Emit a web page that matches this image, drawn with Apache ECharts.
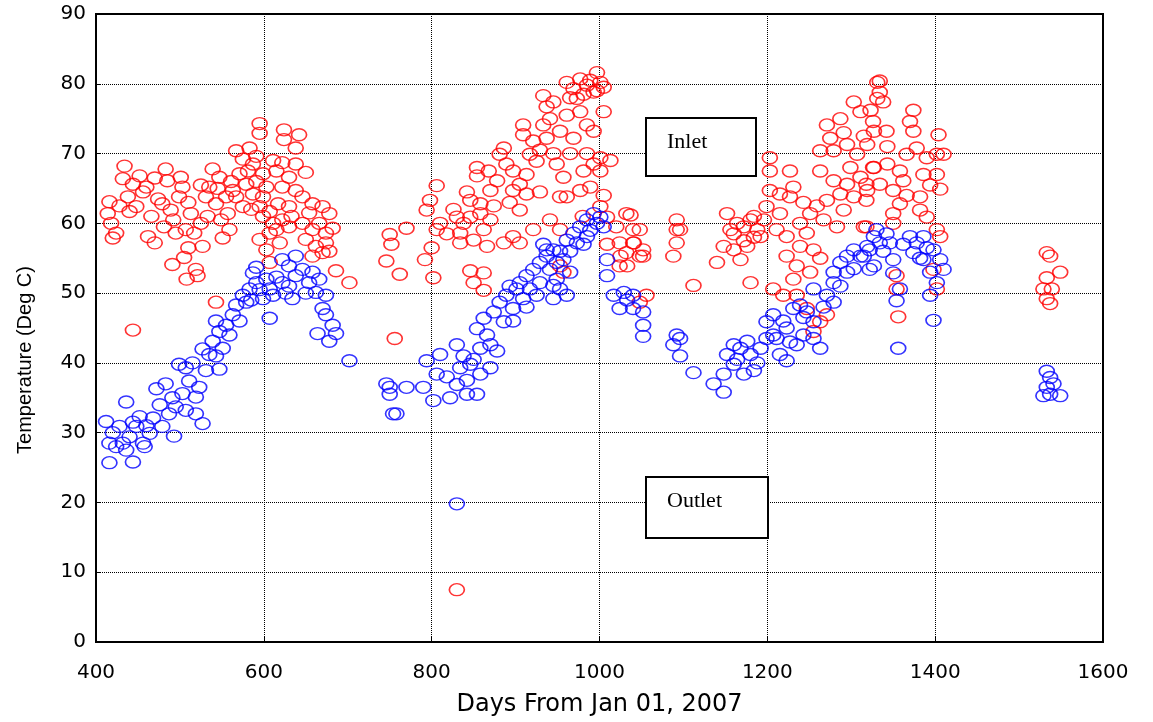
<!DOCTYPE html>
<html>
<head>
<meta charset="utf-8">
<script src="https://cdn.jsdelivr.net/npm/echarts@6/dist/echarts.min.js"></script>
<style>
html,body{margin:0;padding:0;background:#fff;}
#chart{width:1153px;height:722px;}
</style>
</head>
<body>
<div id="chart"></div>
<script>
// axis ticks
var xTicks=[400,600,800,1000,1200,1400,1600];
var yTicks=[0,10,20,30,40,50,60,70,80,90];

// inlet temperature [day, deg C]
var inlet=[
[434,68.2],[432,66.4],[416,63.1],[414,61.4],[418,60],[420,57.9],[424,58.6],[438,63.8],[444,65.6],[452,66.8],
[460,65.2],[448,62.4],[440,61.7],[462,58.1],[470,57.2],[483,67.8],[485,66.1],[501,66.6],[503,65.2],[499,63.8],
[479,62.8],[489,61.9],[481,59.5],[495,58.6],[507,59.1],[491,54.1],[505,55.1],[519,53.4],[521,52.5],[527,56.7],
[517,58.6],[513,61.4],[539,67.8],[547,66.6],[535,65.2],[531,63.8],[543,62.8],[555,63.8],[557,61.4],[559,59.1],
[551,57.9],[567,70.4],[575,69.2],[583,70.8],[591,69.6],[595,74.3],[595,72.9],[587,68.5],[571,67.1],[579,65.6],
[587,64.2],[567,63.8],[575,62.4],[563,64.7],[599,67.1],[603,65.2],[599,63.8],[595,62.4],[607,61.7],[599,61],
[595,57.7],[603,56.2],[607,54.4],[543,48.7],[444,44.7],[624,73.4],[624,72],[642,72.7],[638,70.8],[622,68.7],
[638,68.5],[615,67.5],[630,66.6],[650,67.3],[622,65.2],[638,64.7],[617,62.8],[630,62.4],[646,63.8],[658,62.8],
[670,62.4],[678,61.4],[622,60.5],[615,59.1],[630,59.5],[646,60],[658,59.1],[674,58.6],[682,59.3],[650,57.7],
[662,56.7],[674,57.2],[678,56],[658,55.3],[670,55.8],[686,53.2],[702,51.5],[607,58.6],[619,57.2],
[428,62.5],[456,64.5],[466,61],[474,63.5],[492,60.5],[510,63],[525,60],[533,61],[549,60.5],[561,66],
[581,67.5],[591,66],[611,60],[633,61],[654,61.5],[666,60],[611,69],[585,62],[510,56.5],[545,65],
[470,66.5],[525,65.5],[508,52],
[750,58.4],[752,57],[746,54.6],[762,52.7],[756,43.5],[770,59.3],[792,54.8],[802,52.2],[806,65.4],[798,63.3],
[794,61.9],[810,60],[806,59.1],[830,60.9],[838,60],[834,58.6],[846,60.9],[858,61.4],[870,60.5],[862,59.1],
[834,57.2],[850,57.6],[866,56.7],[886,57.2],[897,58.1],[905,57.2],[846,53.2],[862,52.9],[850,51.5],[862,50.4],
[854,68],[854,66.8],[846,63.3],[858,62.8],[870,64.7],[878,66.1],[886,70.8],[881,69.9],[889,68.5],[897,67.5],
[905,65.6],[913,64.2],[897,64.7],[909,74.1],[909,72.7],[921,71.8],[917,69.9],[925,68.9],[933,74.1],[937,72.2],
[933,78.3],[937,76.7],[945,77.4],[953,73.2],[961,75.5],[969,72.2],[949,68.5],[957,66.6],[961,63.8],[977,64.7],
[981,67.5],[993,68.5],[1001,69.4],[1001,67.5],[989,65.2],[977,76],[985,74.1],[993,73.2],[1005,76],[961,80.2],
[969,79.3],[977,80.7],[985,79.8],[993,78.8],[1001,80.2],[997,81.6],[973,77.9],[953,63.8],[941,60.5],[953,59.1],
[921,59.1],[905,61.9],[1001,62.4],[1009,60.9],[1032,61.4],[1040,59.1],[1024,57.2],[1040,57.2],[1032,55.8],[1048,55.3],
[1024,53.9],[1052,56.2],[1092,60.5],[1092,59.1],[1092,57.2],[1088,55.3],[1056,49.7],[1048,48.7],[953,53.9],[957,53],
[1037,61.2],[1048,59.1],[1041,57.2],[1052,55.3],[1025,55.3],[1033,53.9],[1096,59.1],[1112,51.1],[830,7.5],
[965,78],[981,78.5],[989,80.5],[997,79],[1005,79.5],[941,75],[929,70.5],[945,70],[965,70],[985,70],
[913,67],[893,63],[874,62.5],[818,58.5],[826,62],[842,64.5],[1005,64],[1013,69],[1009,57],[980,61],
[929,64.5],[868,67.5],[1020,59.5],[800,56.5],
[1140,54.4],[1148,56.7],[1156,59.1],[1164,60],[1172,59.5],[1180,60.5],[1188,59.1],[1192,58.1],[1160,56.2],[1176,56.7],
[1168,54.8],[1180,51.5],[1152,61.4],[1203,69.4],[1203,67.5],[1203,64.7],[1199,62.4],[1215,64.2],[1227,67.5],[1231,65.2],
[1227,63.8],[1215,61.4],[1211,59.1],[1223,58.1],[1239,60],[1247,58.6],[1239,56.7],[1251,61.4],[1255,56.2],[1223,55.3],
[1235,53.9],[1251,53],[1207,50.6],[1219,49.7],[1235,49.7],[1247,47.8],[1263,45.9],[1271,46.9],[1255,44.5],[1271,74.1],
[1275,72.2],[1279,70.4],[1287,75],[1303,77.4],[1311,76],[1295,71.3],[1307,69.9],[1319,71.3],[1327,73.2],[1331,80.2],
[1331,77.9],[1263,67.5],[1279,66.1],[1295,65.6],[1311,66.6],[1327,68],[1271,63.3],[1287,64.2],[1303,63.8],[1319,64.7],
[1291,61.9],[1283,59.5],[1315,59.5],[1263,70.4],[1334,80.4],[1334,78.8],[1338,77.4],[1323,76.2],[1326,74.6],[1342,73.2],
[1374,76.2],[1370,74.6],[1374,73.2],[1404,72.7],[1402,69.9],[1410,69.9],[1366,69.9],[1378,70.8],[1390,69.4],[1402,67],
[1406,64.9],[1386,67],[1362,66.1],[1350,64.7],[1334,65.6],[1326,68],[1318,65.6],[1318,63.3],[1358,62.8],[1382,63.8],
[1382,61.9],[1390,60.9],[1350,61.4],[1318,59.5],[1350,60],[1402,59.1],[1406,58.1],[1398,53.4],[1402,50.6],[1354,50.6],
[1354,52.5],[1356,46.6],
[1184,58],[1196,60.5],[1172,57.5],[1160,58.5],[1184,61],[1243,63],[1259,62.5],[1267,60.5],[1299,68],[1343,68.5],
[1358,67.5],[1394,65.5],[1366,64],[1291,73],[1315,72.5],[1343,71],[1231,52],[1263,55],
[1533,55.8],[1537,55.3],[1549,53],[1533,52.2],[1539,50.6],[1533,49.2],[1537,48.5],[1529,50.6]
];

// outlet temperature [day, deg C]
var outlet=[
[416,25.7],[444,25.8],[416,28.5],[424,28],[412,31.6],[428,30.9],[436,34.4],[440,29.4],[448,30.9],[456,28.5],
[464,29.9],[452,32.3],[468,32.1],[472,36.3],[479,30.9],[487,32.7],[483,37],[495,33.7],[499,39.8],[507,39.3],
[503,35.6],[511,37.4],[519,35.1],[507,33.2],[519,32.7],[527,31.3],[523,36.5],[531,38.9],[535,41.2],[547,39.1],
[539,43.1],[547,44.5],[555,45.4],[563,46.9],[551,42.1],[567,48.3],[575,49.7],[583,50.6],[579,48.7],[591,51.5],
[587,52.9],[599,49.2],[607,50.6],[615,52.3],[622,54.8],[630,53.9],[638,55.3],[638,52.5],[634,49.2],[607,46.4],
[646,53.4],[654,51.5],[662,50.1],[674,49.7],[670,47.8],[674,46.9],[682,45.4],[664,44.2],[678,43.1],[686,44.2],
[702,40.3],[591,53.7],[622,51.5],[611,49.7],[750,36.5],[754,32.7],
[420,30],[432,28.5],[444,31.5],[460,31],[476,34],[491,35],[515,40],[527,42],[543,41],[559,44],
[571,46],[595,50.5],[603,52],[626,50],[650,50],[658,53],[666,52],[630,51],[585,49],[543,46],
[458,28],[493,29.5],[436,27.5],
[746,37],[750,35.5],[758,32.7],[770,36.5],[790,36.5],[794,40.3],[802,34.6],[806,38.4],[810,41.2],[830,36.9],
[834,39.3],[830,42.6],[842,35.5],[854,35.5],[846,39.8],[858,42.1],[858,38.4],[870,39.3],[870,42.6],[878,41.7],
[854,44.9],[862,46.4],[874,47.3],[881,48.7],[886,45.9],[889,49.7],[897,47.8],[901,50.6],[905,51.5],[913,52.5],
[909,49.2],[917,50.6],[925,49.7],[921,53.4],[929,54.4],[937,55.3],[941,53.4],[937,56.2],[945,56.2],[949,54.4],
[957,54.8],[945,51.1],[953,50.6],[961,49.7],[945,49.2],[961,57.6],[969,58.6],[977,59.5],[985,60.5],[993,61.4],
[1001,60.9],[997,60],[973,57.2],[985,58.1],[1009,54.8],[1009,52.5],[1017,49.7],[1029,50.1],[1040,49.7],[1024,47.8],
[1040,47.8],[1052,47.3],[1052,45.4],[1052,43.8],[1092,44],[1088,42.6],[1096,43.5],[1096,41],[1112,38.6],[830,19.8],
[818,38],[838,41],[850,40.5],[866,44],[893,51],[897,46],[913,48],[929,51.5],[933,57],[953,56],
[965,56],[981,57],[989,59],[965,53],[949,52],[842,37.5],[822,35],[1005,59.5],[1033,49],
[1136,37],[1148,35.8],[1148,38.4],[1152,41.2],[1160,42.6],[1168,42.1],[1176,43.1],[1160,39.8],[1172,38.4],[1184,38.9],
[1180,41.2],[1192,42.1],[1199,43.5],[1199,45.9],[1207,46.9],[1211,43.5],[1215,41.2],[1223,40.3],[1223,45],[1231,47.8],
[1239,48.3],[1247,47.3],[1255,45.9],[1255,43.5],[1263,42.1],[1235,42.6],[1271,49.7],[1279,51.5],[1279,53],[1287,54.4],
[1295,55.3],[1303,56.2],[1295,53],[1311,55.3],[1319,56.7],[1327,58.1],[1327,53.9],[1279,48.7],[1255,50.6],[1330,59.1],
[1334,57.2],[1322,56.2],[1315,55.3],[1322,53.4],[1346,57.2],[1350,54.8],[1350,52.9],[1358,50.6],[1354,48.9],[1356,42.1],
[1370,58.1],[1378,57.2],[1386,58.1],[1374,55.8],[1386,54.8],[1398,56.2],[1406,54.8],[1410,53.4],[1394,53],[1402,51.5],
[1394,49.7],[1398,46.1],
[1164,40.5],[1188,40],[1207,44],[1219,46],[1243,46.5],[1267,48],[1287,51],[1303,53.5],[1338,56],[1362,57],
[1342,58.5],[1390,56.5],[1382,55],[1227,43],[1243,44],
[1533,38.8],[1537,37.9],[1533,36.5],[1537,35.5],[1529,35.3],[1549,35.3],[1541,37]
];

function loadChart(){
	var myChart=echarts.init(document.getElementById('chart'));
	var tickFont={color:'#000',fontFamily:'DejaVu Sans',fontSize:20,formatter:function(v){return String(v);}};
	var option={
		animation:false,
		grid:{left:96,right:50,top:14,bottom:70,show:true,borderColor:'#000',borderWidth:2},
		xAxis:{
			type:'value',min:xTicks[0],max:xTicks[xTicks.length-1],interval:200,
			name:'Days From Jan 01, 2007',nameLocation:'middle',nameGap:51,
			nameTextStyle:{color:'#000',fontFamily:'DejaVu Sans',fontSize:24},
			axisLine:{lineStyle:{color:'#000',width:2}},
			axisTick:{inside:true,length:5,lineStyle:{color:'#000'}},
			axisLabel:Object.assign({margin:21},tickFont),
			splitLine:{show:true,lineStyle:{color:'#000',type:'dotted',width:1}}
		},
		yAxis:{
			type:'value',min:yTicks[0],max:yTicks[yTicks.length-1],interval:10,
			axisLine:{lineStyle:{color:'#000',width:2}},
			axisTick:{inside:true,length:5,lineStyle:{color:'#000'}},
			axisLabel:Object.assign({margin:10},tickFont),
			splitLine:{show:true,lineStyle:{color:'#000',type:'dotted',width:1}}
		},
		series:[
			{
				name:'Inlet',type:'scatter',symbol:'circle',symbolSize:[15,12],data:inlet,
				itemStyle:{color:'rgba(0,0,0,0)',borderColor:'#ff0000',borderWidth:1.5}
			},
			{
				name:'Outlet',type:'scatter',symbol:'circle',symbolSize:[15,12],data:outlet,
				itemStyle:{color:'rgba(0,0,0,0)',borderColor:'#0000ff',borderWidth:1.5}
			}
		],
		graphic:[
			// y axis title, sits a little below the axis middle like the original
			{type:'text',x:25,y:360,rotation:Math.PI/2,
				style:{text:'Temperature (Deg C)',fill:'#000',font:'20px "Liberation Sans"',align:'center',verticalAlign:'middle'}},
			{type:'rect',left:645,top:117,shape:{width:110,height:58},style:{fill:'#fff',stroke:'#000',lineWidth:2},z:100},
			{type:'text',left:667,top:131,style:{text:'Inlet',fill:'#000',font:'22px "Liberation Serif"'},z:101},
			{type:'rect',left:645,top:476,shape:{width:122,height:61},style:{fill:'#fff',stroke:'#000',lineWidth:2},z:100},
			{type:'text',left:667,top:490,style:{text:'Outlet',fill:'#000',font:'22px "Liberation Serif"'},z:101}
		]
	};
	myChart.setOption(option);
}
loadChart();
</script>
</body>
</html>
